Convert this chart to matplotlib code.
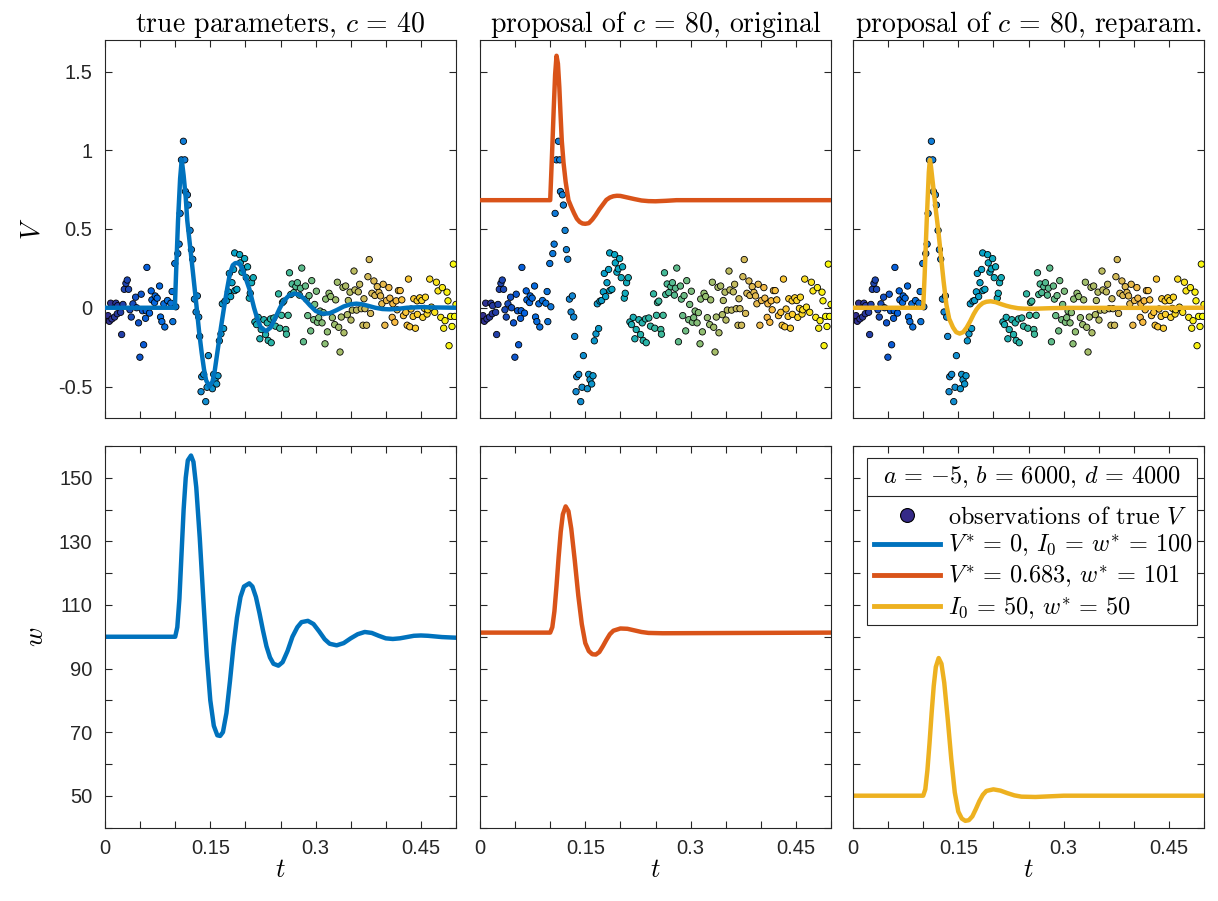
import numpy as np
import matplotlib
matplotlib.use('Agg')
import matplotlib.pyplot as plt
from matplotlib.colors import LinearSegmentedColormap
from matplotlib.lines import Line2D
from matplotlib.patches import Rectangle

OUT_FILE = 'out.png'

# noisy observations of the true V
OBS_T = [0.0024, 0.0043, 0.0062, 0.0081, 0.0099, 0.0137, 0.0156, 0.0175, 0.0180, 0.0223,
         0.0237, 0.0256, 0.0275, 0.0298, 0.0317, 0.0336, 0.0355, 0.0374, 0.0398, 0.0436,
         0.0450, 0.0478, 0.0497, 0.0516, 0.0535, 0.0550, 0.0578, 0.0587, 0.0597, 0.0634,
         0.0658, 0.0668, 0.0706, 0.0715, 0.0743, 0.0777, 0.0791, 0.0810, 0.0838, 0.0852,
         0.0890, 0.0938, 0.0956, 0.0966, 0.0994, 0.1009, 0.1037, 0.1056, 0.1070, 0.1089,
         0.1117, 0.1136, 0.1146, 0.1174, 0.1188, 0.1212, 0.1231, 0.1250, 0.1274, 0.1297,
         0.1316, 0.1335, 0.1349, 0.1368, 0.1378, 0.1406, 0.1435, 0.1454, 0.1473, 0.1530,
         0.1548, 0.1567, 0.1591, 0.1610, 0.1629, 0.1652, 0.1671, 0.1690, 0.1709, 0.1733,
         0.1757, 0.1771, 0.1790, 0.1809, 0.1832, 0.1847, 0.1850, 0.1879, 0.1918, 0.1927,
         0.1950, 0.1970, 0.1989, 0.2012, 0.2031, 0.2055, 0.2069, 0.2088, 0.2112, 0.2135,
         0.2159, 0.2183, 0.2206, 0.2225, 0.2263, 0.2287, 0.2311, 0.2325, 0.2358, 0.2368,
         0.2405, 0.2429, 0.2472, 0.2490, 0.2514, 0.2528, 0.2547, 0.2576, 0.2585, 0.2609,
         0.2628, 0.2646, 0.2666, 0.2689, 0.2718, 0.2741, 0.2770, 0.2784, 0.2803, 0.2827,
         0.2855, 0.2869, 0.2888, 0.2907, 0.2930, 0.2945, 0.2973, 0.2987, 0.3011, 0.3026,
         0.3044, 0.3064, 0.3092, 0.3111, 0.3134, 0.3144, 0.3168, 0.3191, 0.3215, 0.3239,
         0.3272, 0.3286, 0.3310, 0.3329, 0.3348, 0.3366, 0.3390, 0.3404, 0.3428, 0.3452,
         0.3466, 0.3490, 0.3504, 0.3523, 0.3547, 0.3560, 0.3584, 0.3608, 0.3627, 0.3651,
         0.3675, 0.3689, 0.3703, 0.3726, 0.3745, 0.3764, 0.3783, 0.3802, 0.3831, 0.3845,
         0.3878, 0.3902, 0.3925, 0.3944, 0.3963, 0.3987, 0.4010, 0.4044, 0.4058, 0.4091,
         0.4101, 0.4129, 0.4148, 0.4162, 0.4180, 0.4205, 0.4228, 0.4252, 0.4285, 0.4304,
         0.4323, 0.4342, 0.4360, 0.4389, 0.4399, 0.4422, 0.4446, 0.4450, 0.4484, 0.4513,
         0.4527, 0.4550, 0.4564, 0.4588, 0.4598, 0.4626, 0.4650, 0.4697, 0.4721, 0.4744,
         0.4783, 0.4806, 0.4825, 0.4844, 0.4872, 0.4886, 0.4901, 0.4924, 0.4943, 0.4962,
         0.4981, 0.5000]
OBS_V = [-0.076, -0.050, -0.086, 0.029, -0.071, -0.059, 0.029, -0.038, 0.013, -0.029,
         -0.170, 0.021, 0.117, 0.155, 0.176, 0.117, -0.013, -0.059, 0.025, 0.067,
         0.000, -0.096, -0.314, 0.086, -0.019, -0.235, -0.067, -0.019, 0.256, -0.034,
         0.107, 0.050, 0.033, 0.075, 0.061, 0.138, -0.059, -0.088, 0.025, -0.122,
         0.046, 0.029, 0.103, -0.088, 0.281, 0.006, 0.344, 0.404, 0.599, 0.939,
         1.057, 0.939, 0.738, 0.717, 0.652, 0.491, 0.369, 0.308, 0.055, -0.027,
         0.075, -0.059, -0.182, -0.533, -0.438, -0.423, -0.596, -0.505, -0.304, -0.514,
         -0.423, -0.457, -0.484, -0.432, -0.210, -0.166, 0.025, -0.132, 0.042, 0.046,
         0.101, 0.218, 0.071, 0.159, 0.243, 0.348, 0.109, 0.117, 0.337, 0.285,
         0.226, 0.247, 0.312, 0.191, 0.260, 0.061, 0.092, 0.159, 0.191, -0.090,
         -0.107, -0.061, -0.197, -0.138, -0.076, -0.170, -0.096, -0.208, -0.071, -0.222,
         -0.065, -0.117, 0.088, -0.130, -0.048, 0.033, 0.042, -0.138, -0.168, -0.048,
         0.222, 0.084, 0.151, 0.096, 0.134, 0.159, 0.080, 0.124, 0.252, -0.216,
         0.138, 0.055, -0.050, 0.077, -0.147, 0.172, -0.076, 0.021, 0.105, -0.092,
         -0.063, -0.021, -0.096, -0.031, -0.229, 0.055, -0.153, 0.092, 0.071, -0.063,
         -0.107, 0.050, 0.162, -0.124, -0.281, -0.059, 0.130, -0.159, 0.138, -0.044,
         0.046, 0.099, -0.078, -0.015, 0.233, 0.113, -0.015, 0.101, 0.149, -0.006,
         -0.111, 0.057, -0.006, -0.111, 0.197, 0.306, -0.036, 0.092, 0.170, 0.078,
         0.134, 0.097, 0.075, 0.025, 0.149, -0.111, 0.046, 0.128, 0.061, -0.061,
         0.025, -0.092, 0.044, -0.013, 0.109, 0.109, 0.050, -0.050, -0.029, -0.111,
         0.182, -0.121, -0.008, -0.055, 0.057, -0.130, 0.044, -0.042, 0.063, 0.046,
         -0.061, -0.004, 0.067, -0.040, -0.013, 0.182, 0.004, -0.029, 0.162, 0.107,
         -0.061, 0.128, -0.130, -0.082, 0.099, 0.044, -0.241, -0.055, -0.119, 0.277,
         -0.055, 0.021]

# V traces (top row)
V_TRUE_T = [0.0, 0.0995, 0.1015, 0.104, 0.107, 0.1093, 0.112, 0.115, 0.1172, 0.120,
            0.125, 0.1306, 0.134, 0.1377, 0.141, 0.144, 0.1486, 0.153, 0.156, 0.160,
            0.165, 0.1695, 0.174, 0.178, 0.182, 0.1855, 0.1894, 0.193, 0.197, 0.201,
            0.2056, 0.2123, 0.217, 0.222, 0.2293, 0.236, 0.242, 0.2493, 0.255, 0.262,
            0.270, 0.277, 0.284, 0.292, 0.300, 0.310, 0.320, 0.330, 0.340, 0.350,
            0.358, 0.366, 0.375, 0.385, 0.395, 0.405, 0.415, 0.430, 0.450, 0.470, 0.500]
V_TRUE = [0.0, 0.0, 0.25, 0.55, 0.82, 0.94, 0.84, 0.70, 0.553, 0.44,
          0.235, 0.0, -0.15, -0.285, -0.39, -0.46, -0.50, -0.47, -0.41, -0.285,
          -0.13, 0.0, 0.12, 0.218, 0.27, 0.283, 0.285, 0.27, 0.23, 0.18,
          0.12, 0.0, -0.07, -0.125, -0.149, -0.125, -0.07, 0.0, 0.045, 0.078,
          0.09, 0.082, 0.055, 0.015, -0.02, -0.038, -0.035, -0.015, 0.008, 0.022,
          0.026, 0.022, 0.012, 0.0, -0.008, -0.01, -0.008, 0.0, 0.004, 0.002, 0.0]

V_ORIG_T = [0.0, 0.100, 0.1015, 0.103, 0.105, 0.107, 0.109, 0.111, 0.113, 0.1145,
            0.1165, 0.119, 0.122, 0.126, 0.130, 0.134, 0.138, 0.142, 0.146, 0.150,
            0.155, 0.160, 0.165, 0.170, 0.175, 0.180, 0.185, 0.190, 0.195, 0.200,
            0.210, 0.220, 0.230, 0.240, 0.250, 0.265, 0.280, 0.500]
V_ORIG = [0.683, 0.683, 0.85, 1.02, 1.26, 1.48, 1.60, 1.55, 1.40, 1.25,
          1.06, 0.92, 0.80, 0.683, 0.64, 0.60, 0.565, 0.545, 0.535, 0.533,
          0.537, 0.56, 0.59, 0.625, 0.655, 0.685, 0.70, 0.708, 0.711, 0.710,
          0.700, 0.690, 0.681, 0.677, 0.676, 0.679, 0.683, 0.683]

V_REPAR_T = [0.0, 0.100, 0.102, 0.105, 0.108, 0.1095, 0.111, 0.114, 0.118, 0.1215,
             0.125, 0.129, 0.133, 0.137, 0.1425, 0.147, 0.152, 0.157, 0.162, 0.167,
             0.172, 0.176, 0.180, 0.185, 0.190, 0.196, 0.203, 0.211, 0.218, 0.225,
             0.235, 0.245, 0.260, 0.280, 0.300, 0.500]
V_REPAR = [0.0, 0.0, 0.2, 0.55, 0.86, 0.94, 0.90, 0.78, 0.62, 0.49,
           0.34, 0.17, 0.02, -0.07, -0.125, -0.155, -0.164, -0.155, -0.125, -0.085,
           -0.04, -0.01, 0.012, 0.03, 0.038, 0.041, 0.036, 0.023, 0.013, 0.005,
           -0.003, -0.006, -0.006, -0.003, -0.001, 0.0]

# w traces (bottom row)
W_TRUE_T = [0.0, 0.100, 0.103, 0.106, 0.109, 0.112, 0.115, 0.118, 0.1225, 0.126,
            0.130, 0.135, 0.140, 0.145, 0.150, 0.155, 0.160, 0.164, 0.168, 0.173,
            0.178, 0.183, 0.188, 0.193, 0.198, 0.2055, 0.210, 0.215, 0.220, 0.225,
            0.230, 0.235, 0.240, 0.247, 0.253, 0.260, 0.267, 0.274, 0.280, 0.289,
            0.297, 0.305, 0.313, 0.320, 0.330, 0.340, 0.350, 0.360, 0.370, 0.380,
            0.390, 0.400, 0.410, 0.420, 0.430, 0.440, 0.450, 0.460, 0.470, 0.480, 0.500]
W_TRUE = [100, 100, 103, 112, 126, 140, 150, 155.5, 157, 155,
          147, 131, 112, 94, 80, 72, 69, 68.8, 70, 76,
          86, 97, 106, 112.5, 115.8, 116.8, 115.8, 112.5, 107.5, 102,
          97, 93.5, 91.5, 90.9, 92, 95.5, 100, 103, 104.6, 105,
          104, 101.7, 99.2, 97.8, 97.3, 98, 99.5, 100.8, 101.5, 101.2,
          100.3, 99.5, 99.3, 99.5, 99.9, 100.3, 100.4, 100.3, 100.1, 99.9, 99.7]

W_ORIG_T = [0.0, 0.100, 0.103, 0.106, 0.109, 0.112, 0.115, 0.118, 0.122, 0.126,
            0.130, 0.135, 0.140, 0.145, 0.150, 0.155, 0.160, 0.165, 0.170, 0.175,
            0.180, 0.185, 0.190, 0.200, 0.210, 0.220, 0.230, 0.240, 0.260, 0.500]
W_ORIG = [101.3, 101.3, 103, 108, 116, 125, 133, 138.5, 141, 139.5,
          134, 124, 113, 104, 98, 95.5, 94.5, 94.4, 95.2, 97,
          99, 100.8, 101.9, 102.6, 102.5, 102, 101.5, 101.2, 101.1, 101.3]

W_REPAR_T = [0.0, 0.100, 0.103, 0.106, 0.109, 0.112, 0.115, 0.118, 0.122, 0.126,
             0.130, 0.135, 0.140, 0.145, 0.150, 0.155, 0.160, 0.165, 0.170, 0.175,
             0.180, 0.185, 0.190, 0.200, 0.210, 0.220, 0.230, 0.240, 0.260, 0.280,
             0.300, 0.500]
W_REPAR = [50, 50, 52, 58, 66.5, 76, 84.5, 90.5, 93.3, 91.5,
           85.5, 74, 61.5, 51, 45, 42.8, 42.1, 42.3, 43.5, 45.8,
           48.3, 50.3, 51.5, 52.0, 51.6, 50.8, 50.1, 49.7, 49.6, 49.8,
           50, 50]

# plain words are set in cmr10, the maths in mathtext (cm)
TITLES = [r'true parameters, $c\,=\,40$',
          r'proposal of $c\,=\,80$, original',
          r'proposal of $c\,=\,80$, reparam.']
LEGEND_TITLE = r'$a\,=\,{-5},\,b\,=\,6000,\,d\,=\,4000$'
LEGEND_LABELS = [r'observations of true $V$',
                 r'$V^{*}\,=\,0,\,I_0\,=\,w^{*}\,=\,100$',
                 r'$V^{*}\,=\,0.683,\,w^{*}\,=\,101$',
                 r'$I_0\,=\,50,\,w^{*}\,=\,50$']

X_TICKS = [0, 0.05, 0.1, 0.15, 0.2, 0.25, 0.3, 0.35, 0.4, 0.45, 0.5]
X_TICKLABELS = ['0', '', '', '0.15', '', '', '0.3', '', '', '0.45', '']
V_TICKS = [-0.5, 0, 0.5, 1, 1.5]
V_TICKLABELS = ['-0.5', '0', '0.5', '1', '1.5']
W_TICKS = [40, 50, 60, 70, 80, 90, 100, 110, 120, 130, 140, 150, 160]
W_TICKLABELS = ['', '50', '', '70', '', '90', '', '110', '', '130', '', '150', '']

# MATLAB default line colours
COLORS = ['#0072BD', '#D95319', '#EDB120']

# a few anchors of the parula colormap
PARULA_RGB = [(0.2081, 0.1663, 0.5292), (0.0117, 0.3875, 0.8820), (0.0793, 0.5200, 0.8312),
              (0.0228, 0.6535, 0.7768), (0.2178, 0.7250, 0.6193), (0.5709, 0.7485, 0.4494),
              (0.8507, 0.7299, 0.3360), (0.9739, 0.7314, 0.2666), (0.9880, 0.8066, 0.1794),
              (0.9763, 0.9831, 0.0538)]
PARULA_POS = [0, 8 / 63, 16 / 63, 24 / 63, 32 / 63, 40 / 63, 48 / 63, 52 / 63, 56 / 63, 1]

AX_COLOR = '#262626'
SERIF = 'cmr10'


def style_axes(ax, yticks, yticklabels, ylim, show_x, show_y):
    ax.set_xlim(0, 0.5)
    ax.set_ylim(*ylim)
    ax.set_xticks(X_TICKS)
    ax.set_xticklabels(X_TICKLABELS if show_x else [''] * len(X_TICKS))
    ax.set_yticks(yticks)
    ax.set_yticklabels(yticklabels if show_y else [''] * len(yticks))
    ax.tick_params(direction='in', top=True, right=True, length=5, width=0.8,
                   colors=AX_COLOR, labelsize=14.5)
    ax.tick_params(axis='x', pad=8)
    ax.tick_params(axis='y', pad=9)
    for sp in ax.spines.values():
        sp.set_color(AX_COLOR)
        sp.set_linewidth(0.8)


def draw_legend(ax):
    # MATLAB style legend: framed box with a separate header row for the shared parameters
    ax.add_patch(Rectangle((0.04, 0.531), 0.94, 0.4375, transform=ax.transAxes,
                           facecolor='white', edgecolor=AX_COLOR, lw=0.8, zorder=4))
    ax.plot([0.04, 0.98], [0.869, 0.869], transform=ax.transAxes, color=AX_COLOR,
            lw=0.8, zorder=5)
    ax.text(0.51, 0.9187, LEGEND_TITLE, transform=ax.transAxes, ha='center', va='center',
            fontsize=17.5, zorder=5)

    handles = [Line2D([], [], ls='none', marker='o', ms=10, mfc=PARULA_RGB[0],
                      mec='k', mew=0.8)]
    handles += [Line2D([], [], color=c, lw=3.5) for c in COLORS]
    leg = ax.legend(handles, LEGEND_LABELS, loc='upper left', bbox_to_anchor=(0.04, 0.862),
                    prop={'family': SERIF, 'size': 17.5}, frameon=False, handlelength=2.7,
                    handletextpad=0.33, labelspacing=0.2, borderpad=0.3, borderaxespad=0)
    leg.set_zorder(6)


def main():
    plt.rcParams['font.family'] = ['Liberation Sans', 'DejaVu Sans']
    plt.rcParams['mathtext.fontset'] = 'cm'

    fig = plt.figure(figsize=(12.18, 9.01), dpi=100)
    lefts = [105 / 1218, 480 / 1218, 853 / 1218]
    width = 351 / 1218
    top_row = (1 - 418 / 901, 378 / 901)
    bot_row = (1 - 827.5 / 901, 381.5 / 901)

    cmap = LinearSegmentedColormap.from_list('parula_like', list(zip(PARULA_POS, PARULA_RGB)))
    obs_t = np.array(OBS_T)
    obs_v = np.array(OBS_V)
    obs_colors = cmap(obs_t / 0.5)

    v_curves = [(V_TRUE_T, V_TRUE), (V_ORIG_T, V_ORIG), (V_REPAR_T, V_REPAR)]
    w_curves = [(W_TRUE_T, W_TRUE), (W_ORIG_T, W_ORIG), (W_REPAR_T, W_REPAR)]

    for i in range(3):
        ax = fig.add_axes([lefts[i], top_row[0], width, top_row[1]])
        ax.scatter(obs_t, obs_v, s=21, c=obs_colors, edgecolors='k', linewidths=0.6, zorder=2)
        ax.plot(v_curves[i][0], v_curves[i][1], color=COLORS[i], lw=3.2, zorder=3)
        style_axes(ax, V_TICKS, V_TICKLABELS, (-0.7, 1.7), False, i == 0)
        ax.set_title(TITLES[i], fontsize=20, pad=6, family=SERIF)
        if i == 0:
            ax.set_ylabel(r'$V$', fontsize=19, labelpad=10)

        axb = fig.add_axes([lefts[i], bot_row[0], width, bot_row[1]])
        axb.plot(w_curves[i][0], w_curves[i][1], color=COLORS[i], lw=3.2)
        style_axes(axb, W_TICKS, W_TICKLABELS, (40, 160), True, i == 0)
        axb.set_xlabel(r'$t$', fontsize=19, labelpad=0)
        if i == 0:
            axb.set_ylabel(r'$w$', fontsize=19, labelpad=8)

    draw_legend(axb)

    fig.savefig(OUT_FILE, dpi=100)


if __name__ == '__main__':
    main()
